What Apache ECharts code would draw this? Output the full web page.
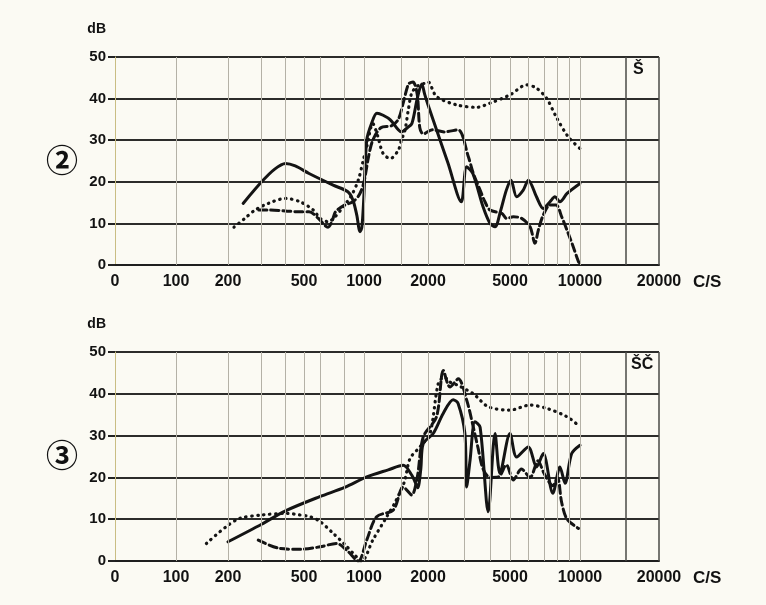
<!DOCTYPE html>
<html>
<head>
<meta charset="utf-8">
<script src="https://cdn.jsdelivr.net/npm/echarts@6/dist/echarts.min.js"></script>
<style>
html, body { margin: 0; padding: 0; background: #fbfaf3; }
#chart { width: 766px; height: 605px; }
</style>
</head>
<body>
<div id="chart"></div>
<script>
// hand drawn frequency scale: where each labelled tick sits along the axis
const tickFreqs = [0, 100, 200, 500, 1000, 2000, 5000, 10000, 20000]
const tickPlaces = [0, 61, 113, 189, 249, 313, 395, 465, 544]
const gridFreqs = [100, 200, 300, 400, 500, 600, 800, 1000, 1500, 2000, 3000, 4000, 5000, 6000, 7000, 8000, 9000, 10000]
const edgeFreqs = [15000, 20000]

// panel 2  [c/s, dB]
const topSolid = [[240, 14.8], [300, 20], [350, 23], [400, 24.4], [450, 23.8], [530, 22], [700, 19.2], [830, 17.6], [880, 15.6], [920, 12], [955, 8], [975, 9], [995, 15], [1030, 30], [1085, 34], [1150, 36.5], [1230, 36], [1330, 34.9], [1450, 32.5], [1500, 32], [1600, 33], [1680, 34], [1780, 40], [1870, 43.5], [1930, 41], [2000, 38.5], [2200, 32.5], [2500, 24.5], [2900, 15.2], [3080, 23.6], [3300, 22], [3700, 14], [4000, 10], [4230, 9.2], [4500, 13], [4800, 18], [5050, 20.4], [5340, 16.4], [5700, 18], [6000, 20.4], [6500, 16.4], [6950, 13.6], [7430, 15.2], [7800, 16.4], [8200, 15.2], [8800, 17.2], [10000, 19.6]]
const topDashed = [[290, 13.2], [325, 13.2], [400, 13], [460, 12.8], [530, 12.8], [590, 11.2], [640, 9.4], [660, 9.1], [690, 10.4], [720, 12.8], [800, 14.4], [880, 15.2], [950, 17], [1000, 20], [1050, 26], [1100, 30], [1200, 33], [1350, 33.5], [1450, 35], [1530, 39], [1620, 43.5], [1700, 44], [1780, 41], [1830, 33], [1900, 31.5], [2100, 32.5], [2400, 32], [2800, 32.5], [3140, 26], [3320, 22], [3580, 18], [3780, 15.2], [4000, 13.2], [4560, 12.4], [4820, 11.2], [5170, 11.6], [5610, 11.2], [6100, 9.2], [6400, 5.2], [6620, 8.4], [6950, 12], [7430, 14.4], [7900, 14.4], [8340, 11.6], [8900, 7.6], [9350, 4.4], [9850, 0.8], [10000, 0.4]]
const topDotted = [[215, 9.1], [245, 11.2], [277, 13.2], [325, 14.8], [400, 16], [477, 15.2], [557, 13.2], [603, 11.2], [662, 10.4], [716, 11.6], [787, 14], [867, 16.8], [936, 20.4], [992, 25.2], [1030, 28.4], [1100, 34], [1160, 31], [1230, 26.8], [1330, 25.6], [1450, 27.6], [1500, 30], [1560, 32.5], [1616, 37.3], [1676, 41.3], [1780, 43], [1936, 43.7], [2000, 44], [2200, 40.5], [2750, 38.5], [3450, 37.9], [4000, 38.9], [5000, 40.9], [5900, 43.3], [6500, 42.5], [7200, 40], [7900, 35.6], [8900, 30.8], [10000, 28]]

// panel 3
const bottomSolid = [[200, 4.6], [300, 8.8], [400, 12], [600, 15.4], [800, 17.6], [1030, 20.1], [1300, 21.8], [1530, 22.9], [1680, 20.5], [1740, 18.9], [1790, 17.5], [1850, 22], [1900, 28.1], [2120, 30.5], [2370, 35.3], [2650, 38.6], [2800, 37.7], [3020, 30.5], [3080, 17.7], [3200, 24.1], [3380, 33.3], [3580, 32], [3920, 11.8], [4230, 30.5], [4470, 21], [5000, 30.5], [5340, 24.9], [5990, 27.3], [6500, 22.5], [6950, 25.7], [7640, 16.2], [8200, 22.5], [8620, 18.6], [9210, 25.7], [10000, 27.7]]
const bottomDashed = [[288, 5], [374, 3], [477, 2.8], [603, 3.4], [729, 4.2], [818, 2.6], [936, 0], [1030, 5], [1147, 10.6], [1374, 12.2], [1530, 17.7], [1676, 15.8], [1780, 20], [1900, 29.7], [2200, 34.5], [2374, 45.6], [2557, 41.6], [2806, 43.6], [3082, 38.5], [3319, 32], [3500, 27], [3700, 22], [4000, 20], [4390, 20.1], [4800, 23], [5170, 19.4], [5600, 22], [6100, 20], [6600, 24], [7000, 21], [7640, 18], [8000, 20], [8340, 14], [8800, 10], [9850, 7.8]]
const bottomDotted = [[150, 4.2], [195, 8.2], [231, 10.2], [300, 11], [406, 11.4], [477, 11], [536, 10.6], [600, 9.5], [701, 6.6], [800, 4], [884, 1.8], [974, 0], [1100, 5], [1279, 10.6], [1400, 14], [1550, 19], [1646, 24.5], [1834, 27.3], [2045, 30.5], [2244, 42.5], [2400, 44], [2557, 42.8], [2800, 42], [3319, 40], [3924, 36.9], [5000, 36.1], [6095, 37.3], [7200, 36.5], [8800, 34.5], [10000, 32.1]]

// c/s -> place on the axis (linear below 100, log between ticks above)
const place = (f) => {
  for (let i = 0; i < tickFreqs.length - 1; i++) {
    const f0 = tickFreqs[i], f1 = tickFreqs[i + 1]
    if (f <= f1 || i === tickFreqs.length - 2) {
      const t = f0 === 0 ? f / f1 : Math.log(f / f0) / Math.log(f1 / f0)
      return tickPlaces[i] + t * (tickPlaces[i + 1] - tickPlaces[i])
    }
  }
}

const ink = '#141414'
const labelFont = { fontFamily: 'Liberation Sans', fontWeight: 'bold', color: '#121212' }

const lineKinds = {
  solid: { width: 3, type: 'solid' },
  dashed: { width: 3, type: [8, 4] },
  dotted: { width: 3.2, type: [0.5, 5.5] }
}

const curve = (pts, kind, idx) => ({
  type: 'line',
  xAxisIndex: idx,
  yAxisIndex: idx,
  data: pts.map(([f, db]) => [place(f), db]),
  showSymbol: false,
  smooth: 0.3,
  silent: true,
  z: 3,
  lineStyle: { color: ink, cap: 'round', join: 'round', ...lineKinds[kind] }
})

const gridLines = (idx) => ({
  type: 'line',
  xAxisIndex: idx,
  yAxisIndex: idx,
  data: [],
  z: 1,
  silent: true,
  markLine: {
    silent: true,
    symbol: 'none',
    animation: false,
    label: { show: false },
    data: [
      ...gridFreqs.map(f => ({ xAxis: place(f), lineStyle: { color: '#b4b1a6', width: 1, type: 'solid' } })),
      ...edgeFreqs.map(f => ({ xAxis: place(f), lineStyle: { color: '#4a4a46', width: 1.5, type: 'solid' } }))
    ]
  }
})

const xAxisFor = (idx) => ({
  type: 'value',
  gridIndex: idx,
  min: 0,
  max: 544,
  name: 'C/S',
  nameLocation: 'end',
  nameGap: 34,
  nameTextStyle: { ...labelFont, fontSize: 17, verticalAlign: 'top', padding: [9, 0, 0, 0] },
  axisLine: { show: true, lineStyle: { color: '#1e1e1e', width: 2 } },
  axisTick: { show: false },
  splitLine: { show: false },
  axisLabel: {
    ...labelFont,
    fontSize: 16,
    margin: 9,
    customValues: tickPlaces,
    formatter: (v) => {
      const i = tickPlaces.findIndex(p => Math.abs(p - v) < 0.01)
      return i < 0 ? '' : String(tickFreqs[i])
    }
  }
})

const yAxisFor = (idx) => ({
  type: 'value',
  gridIndex: idx,
  min: 0,
  max: 50,
  interval: 10,
  name: 'dB',
  nameLocation: 'end',
  nameGap: 21,
  nameTextStyle: { ...labelFont, fontSize: 14, align: 'right', padding: [0, 9, 0, 0] },
  axisLine: { show: true, lineStyle: { color: '#c9bd83', width: 1 } },
  axisTick: { show: true, length: 7, lineStyle: { color: '#222', width: 2 } },
  axisLabel: { ...labelFont, fontSize: 15, margin: 9 },
  splitLine: { show: true, lineStyle: { color: '#2c2c2a', width: 2 } }
})

const chart = echarts.init(document.getElementById('chart'))
chart.setOption({
  backgroundColor: '#fbfaf3',
  animation: false,
  grid: [
    { left: 115, top: 57, width: 544, height: 208, outerBoundsMode: 'none' },
    { left: 115, top: 352, width: 544, height: 209, outerBoundsMode: 'none' }
  ],
  xAxis: [xAxisFor(0), xAxisFor(1)],
  yAxis: [yAxisFor(0), yAxisFor(1)],
  graphic: [
    { type: 'text', left: 46, top: 144, style: { text: '②', font: 'bold 32px "Noto Sans CJK SC"', fill: '#111' } },
    { type: 'text', left: 46, top: 439, style: { text: '③', font: 'bold 32px "Noto Sans CJK SC"', fill: '#111' } },
    { type: 'text', left: 633, top: 62, style: { text: 'Š', font: 'bold 16px "Liberation Sans"', fill: '#111' } },
    { type: 'text', left: 631, top: 357, style: { text: 'ŠČ', font: 'bold 16px "Liberation Sans"', fill: '#111' } }
  ],
  series: [
    gridLines(0),
    gridLines(1),
    curve(topDotted, 'dotted', 0),
    curve(topDashed, 'dashed', 0),
    curve(topSolid, 'solid', 0),
    curve(bottomDotted, 'dotted', 1),
    curve(bottomDashed, 'dashed', 1),
    curve(bottomSolid, 'solid', 1)
  ]
})
</script>
</body>
</html>
